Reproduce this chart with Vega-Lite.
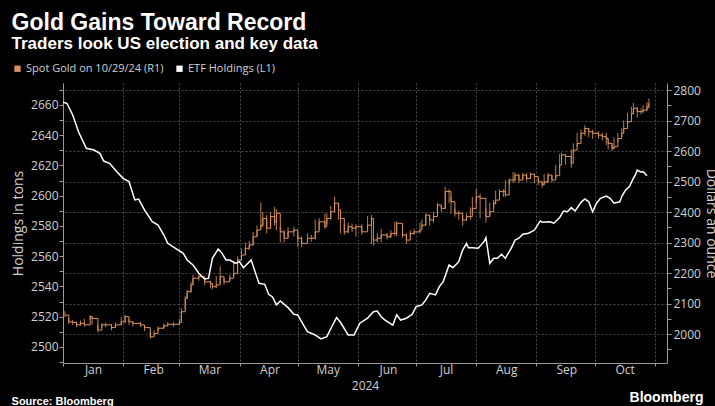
{
 "$schema": "https://vega.github.io/schema/vega-lite/v6.json",
 "background": "#000000",
 "padding": {"left": 11, "top": 12, "right": 0, "bottom": 0},
 "config": {
   "view": {"stroke": null},
   "font": "Open Sans",
   "axis": {"labelColor": "#d0d0d0", "titleColor": "#d0d0d0", "domainColor": "#9a9a9a", "tickColor": "#9a9a9a", "labelFontSize": 12, "titleFontWeight": "normal", "titleFontSize": 14, "tickSize": 4, "labelFont": "Open Sans", "titleFont": "Open Sans"},
   "concat": {"spacing": 0}
 },
 "title": {"text": "Bloomberg", "orient": "bottom", "anchor": "end", "font": "Liberation Sans", "fontSize": 14, "fontWeight": "bold", "color": "#ffffff", "dy": -20, "dx": -14},
 "datasets": {
  "gold": [
   {"date":"2024-01-02","price":2062,"hi":2075,"lo":2055},{"date":"2024-01-04","price":2040,"hi":2050,"lo":2033},{"date":"2024-01-06","price":2038,"hi":2046,"lo":2030},{"date":"2024-01-08","price":2030,"hi":2041,"lo":2022},{"date":"2024-01-10","price":2035,"hi":2044,"lo":2027},{"date":"2024-01-12","price":2030,"hi":2050,"lo":2025},{"date":"2024-01-15","price":2057,"hi":2062,"lo":2046},{"date":"2024-01-16","price":2051,"hi":2058,"lo":2030},{"date":"2024-01-19","price":2013,"hi":2030,"lo":2005},{"date":"2024-01-21","price":2030,"hi":2036,"lo":2020},{"date":"2024-01-23","price":2030,"hi":2038,"lo":2022},{"date":"2024-01-26","price":2021,"hi":2032,"lo":2012},{"date":"2024-01-28","price":2030,"hi":2038,"lo":2022},{"date":"2024-01-31","price":2040,"hi":2055,"lo":2030},
   {"date":"2024-02-02","price":2057,"hi":2064,"lo":2035},{"date":"2024-02-04","price":2040,"hi":2048,"lo":2030},{"date":"2024-02-06","price":2035,"hi":2042,"lo":2024},{"date":"2024-02-10","price":2030,"hi":2040,"lo":2022},{"date":"2024-02-12","price":2021,"hi":2030,"lo":2010},{"date":"2024-02-15","price":1991,"hi":2007,"lo":1985},{"date":"2024-02-17","price":2002,"hi":2012,"lo":1995},{"date":"2024-02-19","price":2019,"hi":2025,"lo":2010},{"date":"2024-02-22","price":2027,"hi":2035,"lo":2018},{"date":"2024-02-24","price":2032,"hi":2040,"lo":2025},{"date":"2024-02-27","price":2032,"hi":2038,"lo":2024},
   {"date":"2024-03-01","price":2038,"hi":2050,"lo":2030},{"date":"2024-03-02","price":2073,"hi":2085,"lo":2040},{"date":"2024-03-04","price":2117,"hi":2125,"lo":2080},{"date":"2024-03-05","price":2139,"hi":2145,"lo":2115},{"date":"2024-03-07","price":2161,"hi":2170,"lo":2135},{"date":"2024-03-08","price":2183,"hi":2195,"lo":2160},{"date":"2024-03-11","price":2188,"hi":2195,"lo":2175},{"date":"2024-03-14","price":2171,"hi":2185,"lo":2160},{"date":"2024-03-17","price":2166,"hi":2175,"lo":2150},{"date":"2024-03-18","price":2155,"hi":2165,"lo":2147},{"date":"2024-03-20","price":2161,"hi":2190,"lo":2150},{"date":"2024-03-22","price":2188,"hi":2222,"lo":2165},{"date":"2024-03-24","price":2171,"hi":2185,"lo":2162},{"date":"2024-03-27","price":2183,"hi":2195,"lo":2175},{"date":"2024-03-29","price":2199,"hi":2240,"lo":2190},{"date":"2024-03-31","price":2243,"hi":2255,"lo":2200},
   {"date":"2024-04-02","price":2259,"hi":2280,"lo":2240},{"date":"2024-04-04","price":2281,"hi":2300,"lo":2260},{"date":"2024-04-06","price":2292,"hi":2305,"lo":2275},{"date":"2024-04-08","price":2319,"hi":2335,"lo":2290},{"date":"2024-04-10","price":2341,"hi":2355,"lo":2320},{"date":"2024-04-12","price":2357,"hi":2431,"lo":2345},{"date":"2024-04-13","price":2379,"hi":2400,"lo":2350},{"date":"2024-04-15","price":2347,"hi":2390,"lo":2330},{"date":"2024-04-17","price":2385,"hi":2400,"lo":2345},{"date":"2024-04-19","price":2368,"hi":2417,"lo":2355},{"date":"2024-04-20","price":2396,"hi":2410,"lo":2340},{"date":"2024-04-22","price":2335,"hi":2350,"lo":2300},{"date":"2024-04-24","price":2314,"hi":2340,"lo":2300},{"date":"2024-04-26","price":2335,"hi":2350,"lo":2315},{"date":"2024-04-29","price":2341,"hi":2352,"lo":2320},
   {"date":"2024-05-01","price":2314,"hi":2330,"lo":2285},{"date":"2024-05-03","price":2297,"hi":2320,"lo":2285},{"date":"2024-05-06","price":2314,"hi":2330,"lo":2300},{"date":"2024-05-08","price":2314,"hi":2325,"lo":2303},{"date":"2024-05-10","price":2335,"hi":2375,"lo":2310},{"date":"2024-05-12","price":2368,"hi":2380,"lo":2340},{"date":"2024-05-15","price":2352,"hi":2395,"lo":2345},{"date":"2024-05-16","price":2379,"hi":2395,"lo":2360},{"date":"2024-05-18","price":2401,"hi":2420,"lo":2375},{"date":"2024-05-20","price":2429,"hi":2450,"lo":2400},{"date":"2024-05-22","price":2407,"hi":2430,"lo":2375},{"date":"2024-05-23","price":2379,"hi":2390,"lo":2330},{"date":"2024-05-25","price":2335,"hi":2360,"lo":2325},{"date":"2024-05-27","price":2352,"hi":2365,"lo":2330},{"date":"2024-05-29","price":2347,"hi":2362,"lo":2335},{"date":"2024-05-31","price":2352,"hi":2360,"lo":2320},
   {"date":"2024-06-03","price":2335,"hi":2360,"lo":2325},{"date":"2024-06-06","price":2357,"hi":2387,"lo":2345},{"date":"2024-06-08","price":2379,"hi":2390,"lo":2295},{"date":"2024-06-09","price":2308,"hi":2320,"lo":2290},{"date":"2024-06-11","price":2314,"hi":2330,"lo":2300},{"date":"2024-06-13","price":2325,"hi":2345,"lo":2300},{"date":"2024-06-16","price":2319,"hi":2332,"lo":2310},{"date":"2024-06-18","price":2330,"hi":2340,"lo":2315},{"date":"2024-06-20","price":2330,"hi":2368,"lo":2322},{"date":"2024-06-21","price":2363,"hi":2370,"lo":2320},{"date":"2024-06-24","price":2325,"hi":2335,"lo":2315},{"date":"2024-06-26","price":2308,"hi":2330,"lo":2295},{"date":"2024-06-28","price":2330,"hi":2340,"lo":2320},{"date":"2024-06-30","price":2335,"hi":2345,"lo":2325},
   {"date":"2024-07-03","price":2341,"hi":2365,"lo":2330},{"date":"2024-07-04","price":2357,"hi":2375,"lo":2350},{"date":"2024-07-06","price":2390,"hi":2395,"lo":2355},{"date":"2024-07-08","price":2374,"hi":2390,"lo":2355},{"date":"2024-07-10","price":2385,"hi":2400,"lo":2365},{"date":"2024-07-12","price":2423,"hi":2430,"lo":2390},{"date":"2024-07-14","price":2412,"hi":2420,"lo":2400},{"date":"2024-07-16","price":2467,"hi":2483,"lo":2410},{"date":"2024-07-18","price":2467,"hi":2475,"lo":2430},{"date":"2024-07-19","price":2434,"hi":2450,"lo":2395},{"date":"2024-07-21","price":2396,"hi":2410,"lo":2385},{"date":"2024-07-23","price":2396,"hi":2405,"lo":2375},{"date":"2024-07-25","price":2374,"hi":2390,"lo":2355},{"date":"2024-07-27","price":2385,"hi":2395,"lo":2370},{"date":"2024-07-29","price":2385,"hi":2415,"lo":2375},{"date":"2024-07-30","price":2412,"hi":2450,"lo":2400},
   {"date":"2024-08-01","price":2450,"hi":2475,"lo":2430},{"date":"2024-08-03","price":2445,"hi":2460,"lo":2380},{"date":"2024-08-06","price":2385,"hi":2410,"lo":2365},{"date":"2024-08-08","price":2401,"hi":2430,"lo":2385},{"date":"2024-08-10","price":2429,"hi":2440,"lo":2415},{"date":"2024-08-11","price":2439,"hi":2470,"lo":2425},{"date":"2024-08-13","price":2467,"hi":2475,"lo":2450},{"date":"2024-08-15","price":2467,"hi":2475,"lo":2450},{"date":"2024-08-16","price":2456,"hi":2505,"lo":2450},{"date":"2024-08-18","price":2505,"hi":2510,"lo":2490},{"date":"2024-08-20","price":2505,"hi":2531,"lo":2495},{"date":"2024-08-21","price":2521,"hi":2530,"lo":2500},{"date":"2024-08-23","price":2505,"hi":2525,"lo":2495},{"date":"2024-08-25","price":2521,"hi":2528,"lo":2505},{"date":"2024-08-27","price":2510,"hi":2528,"lo":2500},{"date":"2024-08-29","price":2524,"hi":2530,"lo":2510},{"date":"2024-08-31","price":2516,"hi":2525,"lo":2495},
   {"date":"2024-09-02","price":2499,"hi":2510,"lo":2488},{"date":"2024-09-04","price":2489,"hi":2500,"lo":2480},{"date":"2024-09-05","price":2499,"hi":2525,"lo":2490},{"date":"2024-09-07","price":2521,"hi":2528,"lo":2495},{"date":"2024-09-09","price":2505,"hi":2520,"lo":2497},{"date":"2024-09-11","price":2519,"hi":2555,"lo":2510},{"date":"2024-09-13","price":2554,"hi":2590,"lo":2545},{"date":"2024-09-14","price":2587,"hi":2595,"lo":2570},{"date":"2024-09-16","price":2582,"hi":2590,"lo":2555},{"date":"2024-09-19","price":2560,"hi":2605,"lo":2545},{"date":"2024-09-20","price":2603,"hi":2625,"lo":2595},{"date":"2024-09-22","price":2625,"hi":2660,"lo":2615},{"date":"2024-09-24","price":2658,"hi":2670,"lo":2640},{"date":"2024-09-26","price":2674,"hi":2685,"lo":2650},{"date":"2024-09-28","price":2663,"hi":2675,"lo":2645},{"date":"2024-09-30","price":2658,"hi":2670,"lo":2640},
   {"date":"2024-10-03","price":2652,"hi":2665,"lo":2640},{"date":"2024-10-05","price":2647,"hi":2660,"lo":2635},{"date":"2024-10-07","price":2641,"hi":2660,"lo":2620},{"date":"2024-10-08","price":2625,"hi":2640,"lo":2605},{"date":"2024-10-10","price":2609,"hi":2625,"lo":2600},{"date":"2024-10-11","price":2614,"hi":2645,"lo":2605},{"date":"2024-10-13","price":2641,"hi":2660,"lo":2630},{"date":"2024-10-15","price":2658,"hi":2675,"lo":2645},{"date":"2024-10-16","price":2674,"hi":2700,"lo":2665},{"date":"2024-10-18","price":2696,"hi":2725,"lo":2685},{"date":"2024-10-20","price":2723,"hi":2745,"lo":2715},{"date":"2024-10-21","price":2740,"hi":2758,"lo":2720},{"date":"2024-10-23","price":2729,"hi":2745,"lo":2710},{"date":"2024-10-25","price":2729,"hi":2740,"lo":2720},{"date":"2024-10-26","price":2734,"hi":2750,"lo":2725},{"date":"2024-10-28","price":2745,"hi":2760,"lo":2730},{"date":"2024-10-29","price":2756,"hi":2772,"lo":2740}
  ],
  "etf": [
   {"date":"2024-01-01","tons":2661.8},{"date":"2024-01-03","tons":2661.1},{"date":"2024-01-06","tons":2653.4},{"date":"2024-01-09","tons":2642.3},{"date":"2024-01-13","tons":2631.3},{"date":"2024-01-17","tons":2630.2},{"date":"2024-01-20","tons":2628.0},{"date":"2024-01-22","tons":2622.9},{"date":"2024-01-25","tons":2621.4},{"date":"2024-01-29","tons":2615.5},
   {"date":"2024-02-01","tons":2611.5},{"date":"2024-02-04","tons":2609.3},{"date":"2024-02-07","tons":2597.2},{"date":"2024-02-09","tons":2597.8},{"date":"2024-02-12","tons":2590.6},{"date":"2024-02-16","tons":2582.8},{"date":"2024-02-19","tons":2580.6},{"date":"2024-02-22","tons":2574.0},{"date":"2024-02-24","tons":2568.5},{"date":"2024-02-28","tons":2565.2},
   {"date":"2024-03-03","tons":2561.9},{"date":"2024-03-05","tons":2557.5},{"date":"2024-03-08","tons":2554.2},{"date":"2024-03-11","tons":2548.7},{"date":"2024-03-14","tons":2544.9},{"date":"2024-03-16","tons":2545.4},{"date":"2024-03-18","tons":2558.6},{"date":"2024-03-21","tons":2564.8},{"date":"2024-03-23","tons":2561.9},{"date":"2024-03-25","tons":2557.5},{"date":"2024-03-27","tons":2557.5},{"date":"2024-03-30","tons":2555.3},
   {"date":"2024-04-01","tons":2556.4},{"date":"2024-04-03","tons":2552.4},{"date":"2024-04-07","tons":2557.5},{"date":"2024-04-09","tons":2549.8},{"date":"2024-04-11","tons":2542.1},{"date":"2024-04-14","tons":2541.4},{"date":"2024-04-16","tons":2534.8},{"date":"2024-04-18","tons":2533.1},{"date":"2024-04-20","tons":2527.8},{"date":"2024-04-22","tons":2530.4},{"date":"2024-04-26","tons":2526.0},{"date":"2024-04-29","tons":2521.6},
   {"date":"2024-05-01","tons":2521.2},{"date":"2024-05-04","tons":2514.5},{"date":"2024-05-06","tons":2510.1},{"date":"2024-05-10","tons":2507.9},{"date":"2024-05-13","tons":2505.3},{"date":"2024-05-16","tons":2506.8},{"date":"2024-05-19","tons":2514.5},{"date":"2024-05-21","tons":2519.4},{"date":"2024-05-23","tons":2516.3},{"date":"2024-05-27","tons":2507.9},{"date":"2024-05-30","tons":2507.9},
   {"date":"2024-06-02","tons":2515.7},{"date":"2024-06-06","tons":2519.0},{"date":"2024-06-09","tons":2523.3},{"date":"2024-06-11","tons":2523.8},{"date":"2024-06-13","tons":2520.0},{"date":"2024-06-15","tons":2517.8},{"date":"2024-06-19","tons":2514.5},{"date":"2024-06-21","tons":2521.2},{"date":"2024-06-23","tons":2517.8},{"date":"2024-06-26","tons":2519.0},{"date":"2024-06-29","tons":2521.6},
   {"date":"2024-07-01","tons":2526.6},{"date":"2024-07-04","tons":2527.8},{"date":"2024-07-06","tons":2531.1},{"date":"2024-07-08","tons":2535.5},{"date":"2024-07-11","tons":2534.4},{"date":"2024-07-13","tons":2539.9},{"date":"2024-07-15","tons":2543.2},{"date":"2024-07-18","tons":2554.2},{"date":"2024-07-20","tons":2552.4},{"date":"2024-07-23","tons":2556.4},{"date":"2024-07-25","tons":2564.1},{"date":"2024-07-27","tons":2568.5},{"date":"2024-07-28","tons":2565.6},{"date":"2024-07-30","tons":2565.6},
   {"date":"2024-08-02","tons":2565.2},{"date":"2024-08-05","tons":2569.6},{"date":"2024-08-06","tons":2572.2},{"date":"2024-08-08","tons":2555.3},{"date":"2024-08-10","tons":2558.6},{"date":"2024-08-12","tons":2558.6},{"date":"2024-08-14","tons":2561.3},{"date":"2024-08-16","tons":2558.6},{"date":"2024-08-19","tons":2565.2},{"date":"2024-08-21","tons":2570.7},{"date":"2024-08-23","tons":2571.9},{"date":"2024-08-25","tons":2574.5},{"date":"2024-08-28","tons":2575.2},{"date":"2024-08-31","tons":2577.3},
   {"date":"2024-09-03","tons":2583.3},{"date":"2024-09-04","tons":2582.4},{"date":"2024-09-08","tons":2582.8},{"date":"2024-09-10","tons":2581.8},{"date":"2024-09-13","tons":2585.5},{"date":"2024-09-15","tons":2589.9},{"date":"2024-09-17","tons":2589.4},{"date":"2024-09-19","tons":2592.1},{"date":"2024-09-21","tons":2589.9},{"date":"2024-09-24","tons":2595.6},{"date":"2024-09-26","tons":2597.8},{"date":"2024-09-28","tons":2596.0},{"date":"2024-09-30","tons":2589.4},
   {"date":"2024-10-02","tons":2595.0},{"date":"2024-10-04","tons":2598.3},{"date":"2024-10-07","tons":2599.8},{"date":"2024-10-09","tons":2598.3},{"date":"2024-10-11","tons":2595.0},{"date":"2024-10-14","tons":2596.0},{"date":"2024-10-15","tons":2599.4},{"date":"2024-10-17","tons":2603.8},{"date":"2024-10-19","tons":2606.0},{"date":"2024-10-21","tons":2611.5},{"date":"2024-10-22","tons":2613.7},{"date":"2024-10-23","tons":2617.0},{"date":"2024-10-25","tons":2615.5},{"date":"2024-10-26","tons":2615.9},{"date":"2024-10-28","tons":2613.2}
  ]
 },
 "vconcat": [{
   "title": {"text": "Source: Bloomberg", "orient": "bottom", "anchor": "start", "font": "Liberation Sans", "fontSize": 11, "fontWeight": "bold", "color": "#ffffff", "offset": 5},
   "vconcat": [{
     "width": 604,
     "height": 280,
     "title": {"text": "Gold Gains Toward Record", "subtitle": "Traders look US election and key data", "anchor": "start", "font": "Liberation Sans", "fontSize": 23, "fontWeight": "bold", "color": "#ffffff", "subtitleFont": "Liberation Sans", "subtitleFontSize": 17, "subtitleFontWeight": "bold", "subtitleColor": "#ffffff", "subtitlePadding": 1, "offset": 31},
     "encoding": {
       "x": {"field": "date", "type": "temporal",
         "scale": {"type": "utc", "domain": [{"year": 2024, "month": 1, "date": 1, "utc": true}, {"year": 2024, "month": 11, "date": 7, "hours": 8, "utc": true}]},
         "axis": {"values": [{"year": 2024, "month": 1, "date": 1, "utc": true}, {"year": 2024, "month": 2, "date": 1, "utc": true}, {"year": 2024, "month": 3, "date": 1, "utc": true}, {"year": 2024, "month": 4, "date": 1, "utc": true}, {"year": 2024, "month": 5, "date": 1, "utc": true}, {"year": 2024, "month": 6, "date": 1, "utc": true}, {"year": 2024, "month": 7, "date": 1, "utc": true}, {"year": 2024, "month": 8, "date": 1, "utc": true}, {"year": 2024, "month": 9, "date": 1, "utc": true}, {"year": 2024, "month": 10, "date": 1, "utc": true}, {"year": 2024, "month": 11, "date": 1, "utc": true}],
           "labelExpr": "utcmonth(datum.value) == 10 ? '' : utcFormat(datum.value, '%b')",
           "labelOffset": 30, "labelFlush": false, "labelOverlap": false,
           "grid": true, "gridColor": "#4a4a4a", "gridDash": [2, 2],
           "tickSize": 3,
           "title": "2024", "titleFontSize": 12, "titlePadding": 5, "labelPadding": -2}}
     },
     "layer": [
       {
         "data": {"name": "gold"},
         "encoding": {
           "color": {"datum": "Spot Gold on 10/29/24 (R1)", "type": "nominal",
             "scale": {"domain": ["Spot Gold on 10/29/24 (R1)", "ETF Holdings (L1)"], "range": ["#dc935a", "#ffffff"]},
             "legend": {"orient": "none", "legendX": -51, "legendY": -20, "direction": "horizontal", "title": null, "symbolType": "square", "symbolSize": 40, "symbolStrokeWidth": 0, "labelColor": "#d0d0d0", "labelFontSize": 11, "labelFont": "Open Sans", "columnPadding": 10, "labelOffset": 3,
               "encode": {"symbols": {"update": {"fill": {"scale": "color", "field": "value"}, "opacity": {"value": 1}}}}}}
         },
         "layer": [
           {
             "mark": {"type": "rule", "strokeWidth": 1, "opacity": 0.85},
             "encoding": {
               "y": {"field": "lo", "type": "quantitative",
                 "scale": {"domain": [1905, 2823], "nice": false, "zero": false},
                 "axis": {"orient": "right", "title": "Dollars an ounce", "values": [1950, 2000, 2050, 2100, 2150, 2200, 2250, 2300, 2350, 2400, 2450, 2500, 2550, 2600, 2650, 2700, 2750, 2800], "format": "d",
                   "labelExpr": "datum.value % 100 == 0 ? datum.label : ''",
                   "grid": true, "gridColor": "#4a4a4a", "gridDash": [2, 2],
                   "gridOpacity": {"condition": {"test": "datum.value % 100 != 0", "value": 0}, "value": 1},
                   "labelPadding": 2, "titlePadding": 3}},
               "y2": {"field": "hi"}
             }
           },
           {
             "mark": {"type": "line", "interpolate": "step-after", "strokeWidth": 1},
             "encoding": {
               "y": {"field": "price", "type": "quantitative",
                 "scale": {"domain": [1905, 2823], "nice": false, "zero": false},
                 "axis": {"orient": "right", "title": "Dollars an ounce", "values": [1950, 2000, 2050, 2100, 2150, 2200, 2250, 2300, 2350, 2400, 2450, 2500, 2550, 2600, 2650, 2700, 2750, 2800], "format": "d",
                   "labelExpr": "datum.value % 100 == 0 ? datum.label : ''",
                   "grid": true, "gridColor": "#4a4a4a", "gridDash": [2, 2],
                   "gridOpacity": {"condition": {"test": "datum.value % 100 != 0", "value": 0}, "value": 1},
                   "labelPadding": 2, "titlePadding": 3}}
             }
           }
         ]
       },
       {
         "data": {"name": "etf"},
         "mark": {"type": "line", "strokeWidth": 1.5},
         "encoding": {
           "y": {"field": "tons", "type": "quantitative",
             "scale": {"domain": [2489.4, 2674.5], "nice": false, "zero": false},
             "axis": {"orient": "left", "title": "Holdings in tons", "values": [2490, 2500, 2510, 2520, 2530, 2540, 2550, 2560, 2570, 2580, 2590, 2600, 2610, 2620, 2630, 2640, 2650, 2660, 2670], "format": "d",
               "labelExpr": "datum.value % 20 == 0 ? datum.label : ''",
               "grid": false, "labelPadding": 1, "titlePadding": 5}},
           "color": {"datum": "ETF Holdings (L1)", "type": "nominal"}
         }
       }
     ],
     "resolve": {"scale": {"y": "independent"}}
   }]
 }]
}
